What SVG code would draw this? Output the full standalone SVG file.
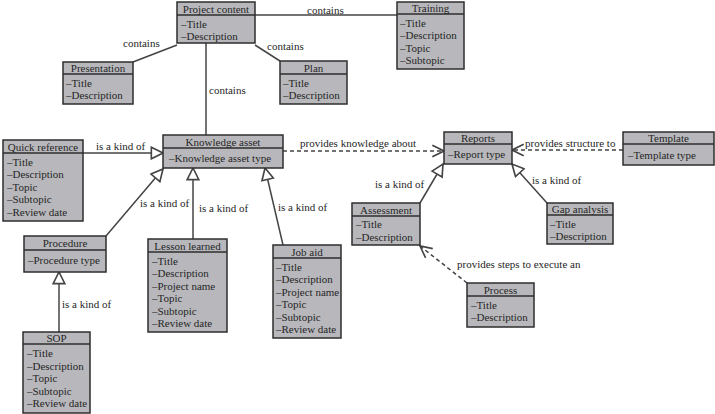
<svg xmlns="http://www.w3.org/2000/svg" width="715" height="414" viewBox="0 0 715 414">
<style>
text{font-family:"Liberation Serif","DejaVu Serif",serif;font-size:11px;fill:#262626}
.box{fill:#b8b8bc;stroke:#2e2e2e;stroke-width:1.5}
.div{stroke:#2e2e2e;stroke-width:1.5}
.h{text-anchor:middle}
.c{fill:none;stroke:#444;stroke-width:1.5}
.d{fill:none;stroke:#444;stroke-width:1.5;stroke-dasharray:4,3}
</style>
<defs>
<marker id="tri" markerUnits="userSpaceOnUse" markerWidth="14" markerHeight="14" viewBox="0 0 12 12" refX="11" refY="6" orient="auto">
<path d="M1,1 L11,6 L1,11 z" fill="#fff" stroke="#444" stroke-width="1.4"/>
</marker>
<marker id="open" markerUnits="userSpaceOnUse" markerWidth="14" markerHeight="14" viewBox="0 0 12 12" refX="11" refY="6" orient="auto">
<path d="M1,1 L11,6 L1,11" fill="none" stroke="#444" stroke-width="1.4"/>
</marker>
</defs>

<g id="connectors">
<line class="c" x1="255" y1="15" x2="397" y2="15"/>
<text x="307" y="14">contains</text>
<line class="c" x1="133" y1="62" x2="177" y2="45"/>
<text x="123" y="47">contains</text>
<line class="c" x1="255" y1="45" x2="280" y2="61"/>
<text x="267" y="50">contains</text>
<line class="c" x1="206" y1="43" x2="206" y2="135"/>
<text x="209" y="94">contains</text>
<line class="c" x1="83" y1="153" x2="163" y2="153" marker-end="url(#tri)"/>
<text x="96" y="150">is a kind of</text>
<line class="c" x1="106" y1="236" x2="163" y2="169" marker-end="url(#tri)"/>
<text x="140" y="207">is a kind of</text>
<line class="c" x1="193" y1="239" x2="193" y2="168" marker-end="url(#tri)"/>
<text x="199" y="212">is a kind of</text>
<line class="c" x1="283" y1="245" x2="265" y2="168" marker-end="url(#tri)"/>
<text x="278" y="211">is a kind of</text>
<line class="c" x1="59" y1="332" x2="59" y2="272" marker-end="url(#tri)"/>
<text x="62" y="308">is a kind of</text>
<line class="d" x1="283" y1="151" x2="444" y2="151" marker-end="url(#open)"/>
<text x="300" y="147">provides knowledge about</text>
<line class="d" x1="623" y1="150" x2="512" y2="150" marker-end="url(#open)"/>
<text x="525" y="147">provides structure to</text>
<line class="c" x1="420" y1="203" x2="443" y2="164" marker-end="url(#tri)"/>
<text x="375" y="188">is a kind of</text>
<line class="c" x1="547" y1="203" x2="512" y2="164" marker-end="url(#tri)"/>
<text x="532" y="184">is a kind of</text>
<line class="d" x1="467" y1="283" x2="420" y2="246" marker-end="url(#open)"/>
<text x="457" y="268">provides steps to execute an</text>
</g>

<g id="project-content">
<rect class="box" x="177" y="2" width="78" height="41"/>
<line class="div" x1="177" y1="15" x2="255" y2="15"/>
<text class="h" x="216" y="12.5">Project content</text>
<text x="181" y="27.5">–Title</text>
<text x="181" y="40">–Description</text>
</g>

<g id="training">
<rect class="box" x="397" y="2" width="67" height="67"/>
<line class="div" x1="397" y1="14" x2="464" y2="14"/>
<text class="h" x="430.5" y="12">Training</text>
<text x="400" y="26.5">–Title</text>
<text x="400" y="39">–Description</text>
<text x="400" y="51.5">–Topic</text>
<text x="400" y="64">–Subtopic</text>
</g>

<g id="presentation">
<rect class="box" x="63" y="62" width="70" height="42"/>
<line class="div" x1="63" y1="74" x2="133" y2="74"/>
<text class="h" x="98" y="72">Presentation</text>
<text x="66" y="86.5">–Title</text>
<text x="66" y="99">–Description</text>
</g>

<g id="plan">
<rect class="box" x="280" y="61" width="67" height="43"/>
<line class="div" x1="280" y1="74" x2="347" y2="74"/>
<text class="h" x="313.5" y="71.5">Plan</text>
<text x="283" y="86.5">–Title</text>
<text x="283" y="99">–Description</text>
</g>

<g id="knowledge-asset">
<rect class="box" x="163" y="135" width="120" height="33"/>
<line class="div" x1="163" y1="148" x2="283" y2="148"/>
<text class="h" x="223" y="145.5">Knowledge asset</text>
<text x="169" y="162">–Knowledge asset type</text>
</g>

<g id="quick-reference">
<rect class="box" x="3" y="140" width="80" height="81"/>
<line class="div" x1="3" y1="153" x2="83" y2="153"/>
<text class="h" x="43" y="150.5">Quick reference</text>
<text x="7" y="165.5">–Title</text>
<text x="7" y="178">–Description</text>
<text x="7" y="190.5">–Topic</text>
<text x="7" y="203">–Subtopic</text>
<text x="7" y="215.5">–Review date</text>
</g>

<g id="procedure">
<rect class="box" x="24" y="236" width="82" height="36"/>
<line class="div" x1="24" y1="250" x2="106" y2="250"/>
<text class="h" x="65" y="247">Procedure</text>
<text x="28" y="264">–Procedure type</text>
</g>

<g id="lesson-learned">
<rect class="box" x="148" y="239" width="79" height="93"/>
<line class="div" x1="148" y1="252" x2="227" y2="252"/>
<text class="h" x="187.5" y="249.5">Lesson learned</text>
<text x="152" y="264.5">–Title</text>
<text x="152" y="277">–Description</text>
<text x="152" y="289.5">–Project name</text>
<text x="152" y="302">–Topic</text>
<text x="152" y="314.5">–Subtopic</text>
<text x="152" y="327">–Review date</text>
</g>

<g id="job-aid">
<rect class="box" x="273" y="245" width="68" height="93"/>
<line class="div" x1="273" y1="258" x2="341" y2="258"/>
<text class="h" x="307" y="255.5">Job aid</text>
<text x="276" y="270.5">–Title</text>
<text x="276" y="283">–Description</text>
<text x="276" y="295.5">–Project name</text>
<text x="276" y="308">–Topic</text>
<text x="276" y="320.5">–Subtopic</text>
<text x="276" y="333">–Review date</text>
</g>

<g id="sop">
<rect class="box" x="23" y="332" width="67" height="81"/>
<line class="div" x1="23" y1="344" x2="90" y2="344"/>
<text class="h" x="56.5" y="342">SOP</text>
<text x="27" y="357">–Title</text>
<text x="27" y="369.5">–Description</text>
<text x="27" y="382">–Topic</text>
<text x="27" y="394.5">–Subtopic</text>
<text x="27" y="407">–Review date</text>
</g>

<g id="reports">
<rect class="box" x="444" y="132" width="68" height="32"/>
<line class="div" x1="444" y1="144" x2="512" y2="144"/>
<text class="h" x="478" y="142">Reports</text>
<text x="448" y="158">–Report type</text>
</g>

<g id="template">
<rect class="box" x="623" y="132" width="91" height="33"/>
<line class="div" x1="623" y1="144" x2="714" y2="144"/>
<text class="h" x="668.5" y="142">Template</text>
<text x="628" y="158.5">–Template type</text>
</g>

<g id="assessment">
<rect class="box" x="352" y="203" width="68" height="42"/>
<line class="div" x1="352" y1="216" x2="420" y2="216"/>
<text class="h" x="386" y="213.5">Assessment</text>
<text x="356" y="228">–Title</text>
<text x="356" y="240.5">–Description</text>
</g>

<g id="gap-analysis">
<rect class="box" x="547" y="203" width="66" height="41"/>
<line class="div" x1="547" y1="215" x2="613" y2="215"/>
<text class="h" x="580" y="213">Gap analysis</text>
<text x="550" y="227.5">–Title</text>
<text x="550" y="240">–Description</text>
</g>

<g id="process">
<rect class="box" x="467" y="283" width="67" height="44"/>
<line class="div" x1="467" y1="296" x2="534" y2="296"/>
<text class="h" x="500.5" y="293.5">Process</text>
<text x="471" y="308.5">–Title</text>
<text x="471" y="321">–Description</text>
</g>
</svg>
